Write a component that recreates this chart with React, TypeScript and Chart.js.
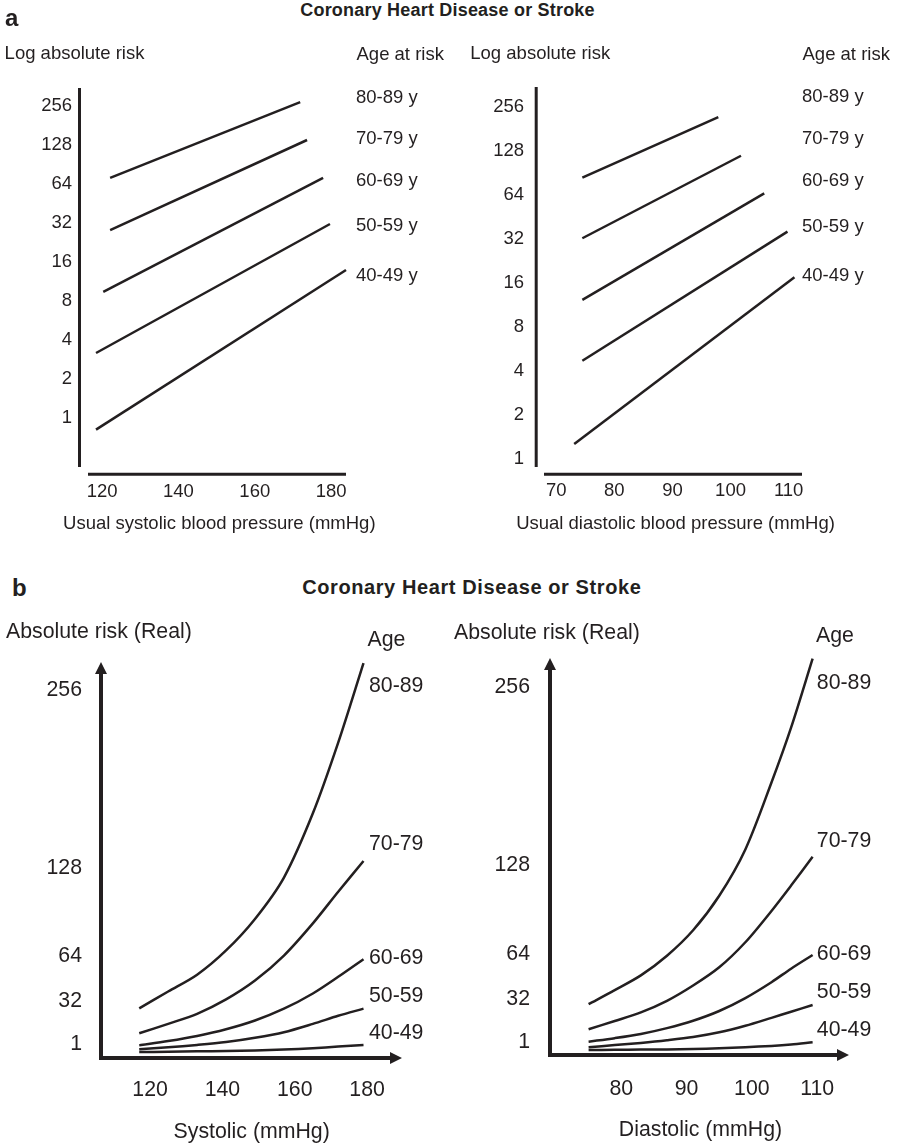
import React, { useEffect, useRef } from 'react';
import { Chart, registerables } from 'chart.js';

Chart.register(...registerables);

const INK = '#231f20';
const FONT = "'Liberation Sans', Arial, Helvetica, sans-serif";

// ---------- Panel a: log absolute risk, one straight segment per age band ----------
const AGE_BANDS_LOG = ['80-89 y', '70-79 y', '60-69 y', '50-59 y', '40-49 y'];
const LOG_RISK_TICKS = [1, 2, 4, 8, 16, 32, 64, 128, 256];

const SYSTOLIC_TICKS = [120, 140, 160, 180];
const SYS_LOG_BP_START = [122.1, 122.1, 120.3, 118.4, 118.4];
const SYS_LOG_BP_END = [171.9, 173.7, 177.9, 179.7, 183.9];
const SYS_LOG_RISK_START = [71.5, 28.3, 9.4, 3.17, 0.81];
const SYS_LOG_RISK_END = [276, 140.5, 71.5, 31.5, 13.9];

const DIASTOLIC_LOG_TICKS = [70, 80, 90, 100, 110];
const DIA_LOG_BP_START = [74.5, 74.5, 74.5, 74.5, 73.1];
const DIA_LOG_BP_END = [97.9, 101.8, 105.8, 109.8, 111.0];
const DIA_LOG_RISK_START = [84.4, 32.5, 12.3, 4.72, 1.27];
const DIA_LOG_RISK_END = [219, 119.3, 66.0, 36.1, 17.6];

// ---------- Panel b: absolute risk on a real (linear) axis ----------
const AGE_BANDS = ['80-89', '70-79', '60-69', '50-59', '40-49'];
const REAL_RISK_TICKS = [1, 32, 64, 128, 256];

const SYSTOLIC_REAL_TICKS = [120, 140, 160, 180];
const SYS_BP = [117, 125, 133, 141, 149, 157, 165, 172, 179];
const SYS_RISK_80 = [35.8, 47.9, 60.0, 77.5, 100.2, 130.0, 176.3, 227.2, 284.5];
const SYS_RISK_70 = [17.8, 24.6, 31.8, 42.2, 55.8, 73.8, 97.0, 119.8, 141.9];
const SYS_RISK_60 = [9.1, 12.2, 15.9, 20.7, 27.0, 35.5, 46.5, 58.5, 71.2];
const SYS_RISK_50 = [6.3, 7.7, 9.4, 11.5, 14.6, 18.6, 24.6, 30.4, 35.6];
const SYS_RISK_40 = [4.3, 4.5, 4.8, 5.0, 5.4, 6.1, 7.1, 8.2, 9.4];

const DIASTOLIC_REAL_TICKS = [80, 90, 100, 110];
const DIA_BP = [75, 79, 83, 87, 91, 95, 99, 103, 106, 109.3];
const DIA_RISK_80 = [36.5, 46.6, 57.2, 71.3, 89.6, 114.4, 147.7, 195.8, 235.2, 284.8];
const DIA_RISK_70 = [18.5, 24.4, 30.6, 38.9, 49.9, 63.0, 81.0, 103.5, 121.7, 142.4];
const DIA_RISK_60 = [9.6, 12.1, 15.1, 19.3, 24.6, 31.6, 40.9, 52.3, 62.0, 71.8];
const DIA_RISK_50 = [5.5, 7.1, 8.7, 10.6, 12.9, 16.3, 21.0, 26.7, 31.1, 35.9];
const DIA_RISK_40 = [3.6, 3.7, 3.9, 4.0, 4.3, 4.8, 5.6, 6.5, 7.5, 9.1];

// ---------- layout helpers ----------
type Rect = { left: number; top: number; width: number; height: number };
type Area = { left: number; top: number; right: number; bottom: number };
type Series = { x: number[]; y: number[] };

const Y_AXIS_W = 60;
const X_AXIS_H = 45;

function layoutPadding(rect: Rect, area: Area) {
  return {
    left: area.left - rect.left - Y_AXIS_W,
    top: area.top - rect.top,
    right: rect.left + rect.width - area.right,
    bottom: rect.top + rect.height - area.bottom - X_AXIS_H,
  };
}

type FrameStyle =
  | { kind: 'open'; yGap: number; xGap: number; width: number }
  | { kind: 'arrows'; width: number; head: number; half: number };

// Draws the axis lines: detached lines for the log panels, arrows for the real panels.
function framePlugin(style: FrameStyle) {
  return {
    id: 'axisFrame',
    beforeDatasetsDraw(chart: any) {
      const { ctx, chartArea: a } = chart;
      ctx.save();
      ctx.strokeStyle = INK;
      ctx.fillStyle = INK;
      ctx.lineWidth = style.width;
      ctx.lineCap = 'butt';
      ctx.lineJoin = 'miter';
      if (style.kind === 'open') {
        ctx.beginPath();
        ctx.moveTo(a.left - style.yGap, a.top);
        ctx.lineTo(a.left - style.yGap, a.bottom);
        ctx.moveTo(a.left, a.bottom + style.xGap);
        ctx.lineTo(a.right, a.bottom + style.xGap);
        ctx.stroke();
      } else {
        const { head, half } = style;
        ctx.beginPath();
        ctx.moveTo(a.left, a.top + head);
        ctx.lineTo(a.left, a.bottom);
        ctx.lineTo(a.right - head, a.bottom);
        ctx.stroke();
        ctx.beginPath();
        ctx.moveTo(a.left, a.top);
        ctx.lineTo(a.left - half, a.top + head + 1);
        ctx.lineTo(a.left + half, a.top + head + 1);
        ctx.closePath();
        ctx.moveTo(a.right, a.bottom);
        ctx.lineTo(a.right - head - 1, a.bottom - half);
        ctx.lineTo(a.right - head - 1, a.bottom + half);
        ctx.closePath();
        ctx.fill();
      }
      ctx.restore();
    },
  };
}

type PanelOptions = {
  rect: Rect;
  area: Area;
  series: Series[];
  tension: number;
  xMin: number;
  xMax: number;
  xTicks: number[];
  xPad: number;
  yType: 'linear' | 'logarithmic';
  yMin: number;
  yMax: number;
  yTicks: number[];
  yPad: number;
  yLabelOffset: number;
  fontSize: number;
  frame: FrameStyle;
};

function buildConfig(o: PanelOptions): any {
  const font = { family: FONT, size: o.fontSize };
  return {
    type: 'line',
    data: {
      datasets: o.series.map((s) => ({
        data: s.x.map((x, i) => ({ x, y: s.y[i] })),
        borderColor: INK,
        borderWidth: 2.5,
        pointRadius: 0,
        fill: false,
        clip: false,
        tension: o.tension,
      })),
    },
    options: {
      responsive: false,
      animation: false,
      events: [],
      layout: { padding: layoutPadding(o.rect, o.area) },
      plugins: {
        legend: { display: false },
        tooltip: { enabled: false },
        title: { display: false },
      },
      scales: {
        x: {
          type: 'linear',
          position: 'bottom',
          bounds: 'data',
          min: o.xMin,
          max: o.xMax,
          grid: { display: false, drawTicks: false },
          border: { display: false },
          ticks: {
            font,
            color: INK,
            padding: o.xPad,
            autoSkip: false,
            maxRotation: 0,
            callback: (v: number) => String(v),
          },
          afterBuildTicks: (scale: any) => {
            scale.ticks = o.xTicks.map((value) => ({ value }));
          },
          afterFit: (scale: any) => {
            scale.height = X_AXIS_H;
          },
        },
        y: {
          type: o.yType,
          position: 'left',
          bounds: 'data',
          min: o.yMin,
          max: o.yMax,
          grid: { display: false, drawTicks: false },
          border: { display: false },
          ticks: {
            font,
            color: INK,
            padding: o.yPad,
            autoSkip: false,
            labelOffset: o.yLabelOffset,
            callback: (v: number) => String(v),
          },
          afterBuildTicks: (scale: any) => {
            scale.ticks = o.yTicks.map((value) => ({ value }));
          },
          afterFit: (scale: any) => {
            scale.width = Y_AXIS_W;
          },
        },
      },
    },
    plugins: [framePlugin(o.frame)],
  };
}

function ChartCanvas({ options }: { options: PanelOptions }) {
  const ref = useRef<HTMLCanvasElement>(null);
  useEffect(() => {
    const chart = new Chart(ref.current as HTMLCanvasElement, buildConfig(options));
    return () => chart.destroy();
  }, []);
  const r = options.rect;
  return (
    <canvas
      ref={ref}
      width={r.width}
      height={r.height}
      style={{ position: 'absolute', left: r.left, top: r.top, width: r.width, height: r.height }}
    />
  );
}

function Label({
  x,
  baseline,
  size,
  text,
  bold = false,
  center = false,
  spacing = 0,
}: {
  x: number;
  baseline: number;
  size: number;
  text: string;
  bold?: boolean;
  center?: boolean;
  spacing?: number;
}) {
  return (
    <div
      style={{
        position: 'absolute',
        left: x,
        top: baseline - 0.8465 * size,
        fontFamily: FONT,
        fontSize: size,
        lineHeight: 1,
        fontWeight: bold ? 700 : 400,
        letterSpacing: spacing,
        color: INK,
        whiteSpace: 'nowrap',
        transform: center ? 'translateX(-50%)' : undefined,
      }}
    >
      {text}
    </div>
  );
}

const segments = (bpStart: number[], bpEnd: number[], rStart: number[], rEnd: number[]): Series[] =>
  bpStart.map((b, i) => ({ x: [b, bpEnd[i]], y: [rStart[i], rEnd[i]] }));

const A_SIZE = 18.5;
const B_SIZE = 21.3;

export default function App() {
  const sysLog: PanelOptions = {
    rect: { left: 0, top: 30, width: 440, height: 490 },
    area: { left: 88, top: 88, right: 346, bottom: 467 },
    series: segments(SYS_LOG_BP_START, SYS_LOG_BP_END, SYS_LOG_RISK_START, SYS_LOG_RISK_END),
    tension: 0,
    xMin: 116.3,
    xMax: 183.9,
    xTicks: SYSTOLIC_TICKS,
    xPad: 14,
    yType: 'logarithmic',
    yMin: 0.4168,
    yMax: 354.5,
    yTicks: LOG_RISK_TICKS,
    yPad: 16,
    yLabelOffset: 0,
    fontSize: A_SIZE,
    frame: { kind: 'open', yGap: 8.5, xGap: 7.2, width: 3 },
  };
  const diaLog: PanelOptions = {
    rect: { left: 440, top: 30, width: 458, height: 490 },
    area: { left: 544, top: 87, right: 802, bottom: 467 },
    series: segments(DIA_LOG_BP_START, DIA_LOG_BP_END, DIA_LOG_RISK_START, DIA_LOG_RISK_END),
    tension: 0,
    xMin: 67.9,
    xMax: 112.3,
    xTicks: DIASTOLIC_LOG_TICKS,
    xPad: 12.7,
    yType: 'logarithmic',
    yMin: 0.884,
    yMax: 352.4,
    yTicks: LOG_RISK_TICKS,
    yPad: 20,
    yLabelOffset: 0,
    fontSize: A_SIZE,
    frame: { kind: 'open', yGap: 7.8, xGap: 7.2, width: 3 },
  };
  const sysReal: PanelOptions = {
    rect: { left: 0, top: 610, width: 440, height: 510 },
    area: { left: 101, top: 662, right: 402, bottom: 1058 },
    series: [
      { x: SYS_BP, y: SYS_RISK_80 },
      { x: SYS_BP, y: SYS_RISK_70 },
      { x: SYS_BP, y: SYS_RISK_60 },
      { x: SYS_BP, y: SYS_RISK_50 },
      { x: SYS_BP, y: SYS_RISK_40 },
    ],
    tension: 0.3,
    xMin: 106.43,
    xMax: 189.64,
    xTicks: SYSTOLIC_REAL_TICKS,
    xPad: 19.2,
    yType: 'linear',
    yMin: 0,
    yMax: 285.3,
    yTicks: REAL_RISK_TICKS,
    yPad: 19,
    yLabelOffset: -12.6,
    fontSize: B_SIZE,
    frame: { kind: 'arrows', width: 4, head: 11, half: 6 },
  };
  const diaReal: PanelOptions = {
    rect: { left: 440, top: 606, width: 458, height: 514 },
    area: { left: 550, top: 658, right: 849, bottom: 1055 },
    series: [
      { x: DIA_BP, y: DIA_RISK_80 },
      { x: DIA_BP, y: DIA_RISK_70 },
      { x: DIA_BP, y: DIA_RISK_60 },
      { x: DIA_BP, y: DIA_RISK_50 },
      { x: DIA_BP, y: DIA_RISK_40 },
    ],
    tension: 0.3,
    xMin: 69.09,
    xMax: 114.87,
    xTicks: DIASTOLIC_REAL_TICKS,
    xPad: 21.2,
    yType: 'linear',
    yMin: 0,
    yMax: 285.2,
    yTicks: REAL_RISK_TICKS,
    yPad: 20,
    yLabelOffset: -11.6,
    fontSize: B_SIZE,
    frame: { kind: 'arrows', width: 4, head: 11, half: 6 },
  };

  // Baselines of the age-band captions beside each panel
  const bandBaselinesSysLog = [103.3, 144.9, 186.9, 231.9, 281.9];
  const bandBaselinesDiaLog = [102.9, 144.9, 186.6, 232.4, 281.3];
  const bandBaselinesSysReal = [692.6, 850.9, 965.1, 1003.4, 1040.1];
  const bandBaselinesDiaReal = [689.8, 847.9, 960.9, 999.3, 1036.6];

  return (
    <div
      style={{
        position: 'absolute',
        left: 0,
        top: 0,
        width: 898,
        height: 1147,
        background: '#ffffff',
        overflow: 'hidden',
      }}
    >
      <ChartCanvas options={sysLog} />
      <ChartCanvas options={diaLog} />
      <ChartCanvas options={sysReal} />
      <ChartCanvas options={diaReal} />

      {/* panel a */}
      <Label x={5} baseline={26.7} size={24} text="a" bold />
      <Label x={447.5} baseline={16.7} size={18} text="Coronary Heart Disease or Stroke" bold center spacing={0.2} />
      <Label x={4.6} baseline={59.3} size={A_SIZE} text="Log absolute risk" />
      <Label x={356.5} baseline={61} size={A_SIZE} text="Age at risk" />
      <Label x={470.3} baseline={59.5} size={A_SIZE} text="Log absolute risk" />
      <Label x={802.5} baseline={61} size={A_SIZE} text="Age at risk" />
      {AGE_BANDS_LOG.map((t, i) => (
        <Label key={'sl' + t} x={356} baseline={bandBaselinesSysLog[i]} size={A_SIZE} text={t} />
      ))}
      {AGE_BANDS_LOG.map((t, i) => (
        <Label key={'dl' + t} x={802} baseline={bandBaselinesDiaLog[i]} size={A_SIZE} text={t} />
      ))}
      <Label x={219.3} baseline={530} size={A_SIZE} text="Usual systolic blood pressure (mmHg)" center />
      <Label x={675.5} baseline={530} size={A_SIZE} text="Usual diastolic blood pressure (mmHg)" center />

      {/* panel b */}
      <Label x={12} baseline={596} size={24} text="b" bold />
      <Label x={471.8} baseline={594} size={20} text="Coronary Heart Disease or Stroke" bold center spacing={0.6} />
      <Label x={6} baseline={639.3} size={B_SIZE} text="Absolute risk (Real)" />
      <Label x={367.5} baseline={647.5} size={B_SIZE} text="Age" />
      <Label x={454} baseline={640} size={B_SIZE} text="Absolute risk (Real)" />
      <Label x={816} baseline={642.7} size={B_SIZE} text="Age" />
      {AGE_BANDS.map((t, i) => (
        <Label key={'sr' + t} x={369} baseline={bandBaselinesSysReal[i]} size={B_SIZE} text={t} />
      ))}
      {AGE_BANDS.map((t, i) => (
        <Label key={'dr' + t} x={816.8} baseline={bandBaselinesDiaReal[i]} size={B_SIZE} text={t} />
      ))}
      <Label x={251.7} baseline={1139.3} size={B_SIZE} text="Systolic (mmHg)" center />
      <Label x={700.5} baseline={1136.7} size={B_SIZE} text="Diastolic (mmHg)" center />
    </div>
  );
}
